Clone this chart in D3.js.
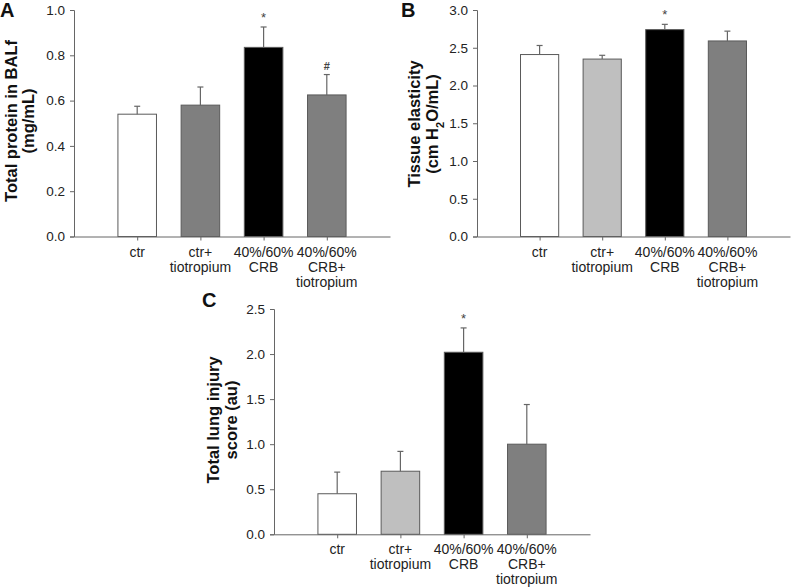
<!DOCTYPE html>
<html>
<head>
<meta charset="utf-8">
<script src="https://cdn.jsdelivr.net/npm/d3@7"></script>
<style>
  body { margin: 0; background: #fff; }
  svg text { font-family: "Liberation Sans", Arial, sans-serif; }
</style>
</head>
<body>
<svg id="fig" width="792" height="587"></svg>
<script>
// Groups on the x axis (multi-line labels)
const groups = ["ctr", "ctr+ tiotropium", "40%/60% CRB", "40%/60% CRB+ tiotropium"];
const groupLines = [["ctr"], ["ctr+", "tiotropium"], ["40%/60%", "CRB"], ["40%/60%", "CRB+", "tiotropium"]];

// Panel A - total protein in BALf (mg/mL)
const proteinMean = [0.54, 0.58, 0.835, 0.625];
const proteinErr = [0.035, 0.08, 0.09, 0.09];
const proteinTicks = [0, 0.2, 0.4, 0.6, 0.8, 1.0];
const proteinMarks = ["", "", "*", "#"];

// Panel B - tissue elasticity (cm H2O/mL)
const elasticityMean = [2.41, 2.35, 2.74, 2.59];
const elasticityErr = [0.12, 0.05, 0.07, 0.13];
const elasticityTicks = [0, 0.5, 1.0, 1.5, 2.0, 2.5, 3.0];
const elasticityMarks = ["", "", "*", ""];

// Panel C - total lung injury score (au)
const injuryMean = [0.45, 0.70, 2.02, 1.00];
const injuryErr = [0.24, 0.22, 0.27, 0.44];
const injuryTicks = [0, 0.5, 1.0, 1.5, 2.0, 2.5];
const injuryMarks = ["", "", "*", ""];

const fillsA = ["#ffffff", "#7f7f7f", "#000000", "#7f7f7f"];
const fillsBC = ["#ffffff", "#bfbfbf", "#000000", "#7f7f7f"];

const svg = d3.select("#fig");
const axisColor = "#666";

function drawPanel(opts) {
  const g = svg.append("g");

  const x = d3.scalePoint()
    .domain(groups)
    .range([opts.left, opts.right])
    .padding(1);
  const y = d3.scaleLinear()
    .domain([0, d3.max(opts.ticks)])
    .range([opts.bottom, opts.top]);

  const barW = x.step() * 0.61;

  // bars
  g.selectAll(".bar")
    .data(opts.mean)
    .enter()
    .append("rect")
    .attr("x", (d, i) => x(groups[i]) - barW / 2)
    .attr("y", d => y(d))
    .attr("width", barW)
    .attr("height", d => y(0) - y(d))
    .attr("fill", (d, i) => opts.fills[i])
    .attr("stroke", "#5a5a5a")
    .attr("stroke-width", 1);

  // upper error bars
  opts.mean.forEach((m, i) => {
    const cx = x(groups[i]);
    g.append("line")
      .attr("x1", cx).attr("x2", cx)
      .attr("y1", y(m)).attr("y2", y(m + opts.err[i]))
      .attr("stroke", axisColor).attr("stroke-width", 1.2);
    g.append("line")
      .attr("x1", cx - 3).attr("x2", cx + 3)
      .attr("y1", y(m + opts.err[i])).attr("y2", y(m + opts.err[i]))
      .attr("stroke", axisColor).attr("stroke-width", 1.2);
    if (opts.marks[i]) {
      g.append("text")
        .attr("x", cx)
        .attr("y", y(m + opts.err[i]) - 5)
        .attr("text-anchor", "middle")
        .style("font-size", opts.marks[i] === "*" ? "13px" : "11px")
        .style("font-weight", opts.marks[i] === "#" ? "bold" : "normal")
        .attr("fill", "#444")
        .text(opts.marks[i]);
    }
  });

  // y axis
  const yAxis = g.append("g")
    .attr("transform", `translate(${opts.left},0)`)
    .call(d3.axisLeft(y).tickValues(opts.ticks).tickFormat(d3.format(".1f")).tickSize(4).tickPadding(5));
  yAxis.select(".domain").attr("stroke", axisColor);
  yAxis.selectAll(".tick line").attr("stroke", axisColor);
  yAxis.selectAll("text").style("font-size", "13.5px").attr("fill", "#222")
    .style("font-family", "'Liberation Sans', Arial, sans-serif");

  // x axis
  const xAxis = g.append("g")
    .attr("transform", `translate(0,${opts.bottom})`)
    .call(d3.axisBottom(x).tickSize(4).tickSizeOuter(0).tickFormat(""));
  xAxis.select(".domain").attr("stroke", axisColor);
  xAxis.selectAll(".tick line").attr("stroke", axisColor);

  groupLines.forEach((lines, i) => {
    lines.forEach((ln, j) => {
      g.append("text")
        .attr("x", x(groups[i]))
        .attr("y", opts.bottom + 20 + j * 15)
        .attr("text-anchor", "middle")
        .style("font-size", "14px")
        .attr("fill", "#222")
        .text(ln);
    });
  });

  // y title (two lines, rotated)
  const cy = opts.titleY;
  opts.title.forEach((ln, j) => {
    const t = g.append("text")
      .attr("transform", `translate(${opts.titleX[j]},${cy}) rotate(-90)`)
      .attr("text-anchor", "middle")
      .style("font-size", "16.5px")
      .style("font-weight", "bold")
      .attr("fill", "#111");
    if (Array.isArray(ln)) {
      ln.forEach(part => {
        const ts = t.append("tspan").text(part.t);
        if (part.sub) ts.attr("baseline-shift", "sub").style("font-size", "11px");
      });
    } else {
      t.text(ln);
    }
  });

  // panel letter
  g.append("text")
    .attr("x", opts.letterX)
    .attr("y", opts.letterY)
    .style("font-size", "20px")
    .style("font-weight", "bold")
    .attr("fill", "#111")
    .text(opts.letter);
}

drawPanel({
  left: 74, right: 390, top: 10, bottom: 236.5,
  mean: proteinMean, err: proteinErr, ticks: proteinTicks, marks: proteinMarks,
  fills: fillsA, letter: "A", letterX: 0, letterY: 17,
  title: ["Total protein in BALf", "(mg/mL)"], titleX: [17, 34], titleY: 121
});

drawPanel({
  left: 477, right: 790, top: 10, bottom: 236.5,
  mean: elasticityMean, err: elasticityErr, ticks: elasticityTicks, marks: elasticityMarks,
  fills: fillsBC, letter: "B", letterX: 401, letterY: 17,
  title: ["Tissue elasticity", [{ t: "(cm H" }, { t: "2", sub: true }, { t: "O/mL)" }]], titleX: [420, 438], titleY: 124
});

drawPanel({
  left: 274, right: 590, top: 309, bottom: 534.3,
  mean: injuryMean, err: injuryErr, ticks: injuryTicks, marks: injuryMarks,
  fills: fillsBC, letter: "C", letterX: 202, letterY: 307,
  title: ["Total lung injury", "score (au)"], titleX: [219, 237], titleY: 420
});
</script>
</body>
</html>
